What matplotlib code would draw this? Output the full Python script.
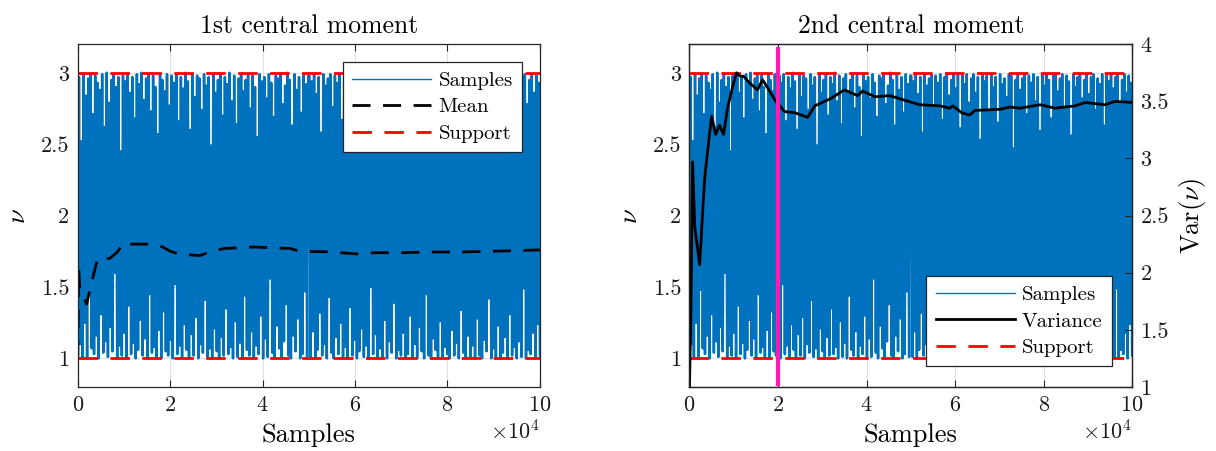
import numpy as np
import matplotlib
matplotlib.use("Agg")
import matplotlib.pyplot as plt
from matplotlib.ticker import ScalarFormatter, FormatStrFormatter

plt.rcParams['font.family'] = 'serif'
plt.rcParams['font.serif'] = ['cmr10']
plt.rcParams['mathtext.fontset'] = 'cm'
plt.rcParams['axes.formatter.use_mathtext'] = True

# ---------------- data ----------------
samples = [
    1.02, 2.97, 1.10, 2.52, 1.01, 2.99, 1.25, 2.84, 1.00, 2.96, 1.48, 2.99, 1.07, 2.71, 1.03, 2.98, 1.16, 2.93, 1.00, 2.88,
    1.31, 2.99, 1.04, 2.62, 1.12, 3.00, 1.01, 2.79, 1.22, 2.95, 1.05, 2.99, 1.60, 2.90, 1.00, 2.97, 1.09, 2.45, 1.02, 2.98,
    1.18, 2.94, 1.00, 2.99, 1.37, 2.86, 1.03, 2.97, 1.11, 2.68, 1.00, 2.99, 1.06, 2.92, 1.27, 3.00, 1.02, 2.81, 1.14, 2.96,
    1.00, 2.99, 1.45, 2.73, 1.04, 2.98, 1.08, 2.90, 1.01, 2.57, 1.20, 2.99, 1.00, 2.95, 1.33, 2.87, 1.05, 2.99, 1.02, 2.77,
    1.13, 2.98, 1.00, 2.93, 1.52, 2.99, 1.03, 2.66, 1.09, 2.97, 1.01, 2.89, 1.24, 3.00, 1.06, 2.94, 1.00, 2.60, 1.17, 2.99,
    1.02, 2.83, 1.29, 2.98, 1.00, 2.96, 1.10, 2.74, 1.04, 2.99, 1.41, 2.91, 1.01, 2.97, 1.07, 2.49, 1.00, 2.99, 1.21, 2.86,
    1.05, 2.95, 1.00, 2.99, 1.15, 2.70, 1.02, 2.97, 1.35, 2.92, 1.03, 3.00, 1.08, 2.80, 1.00, 2.98, 1.26, 2.64, 1.01, 2.96,
    1.11, 2.99, 1.00, 2.87, 1.44, 2.95, 1.06, 2.99, 1.02, 2.75, 1.19, 2.98, 1.00, 2.90, 1.09, 2.55, 1.03, 2.99, 1.30, 2.94,
    1.00, 2.97, 1.14, 2.82, 1.01, 2.99, 1.56, 2.93, 1.04, 2.69, 1.00, 2.98, 1.23, 2.96, 1.07, 2.99, 1.01, 2.78, 1.12, 2.91,
    1.38, 3.00, 1.02, 2.95, 1.00, 2.63, 1.16, 2.99, 1.05, 2.88, 1.28, 2.97, 1.00, 2.72, 1.03, 2.99, 1.47, 2.92, 1.01, 2.98,
    2.98, 1.01, 2.94, 1.19, 2.99, 1.00, 2.85, 1.06, 2.97, 1.32, 2.58, 1.02, 2.99, 1.10, 2.91, 1.00, 2.96, 1.43, 2.99, 1.04,
    2.76, 1.00, 2.98, 1.15, 2.93, 1.03, 2.99, 1.25, 2.67, 1.01, 2.97, 1.08, 2.99, 1.00, 2.84, 1.36, 2.95, 1.02, 2.99, 1.13,
    2.89, 1.00, 2.99, 1.05, 2.61, 1.21, 2.98, 1.01, 2.92, 1.09, 2.99, 1.00, 2.79, 1.50, 2.96, 1.03, 2.99, 1.17, 2.86, 1.00,
    2.97, 1.07, 2.53, 1.01, 2.99, 1.27, 2.94, 1.00, 2.98, 1.12, 2.73, 1.04, 2.99, 1.39, 2.90, 1.00, 2.97, 1.06, 2.65, 1.02,
    2.99, 1.18, 2.92, 1.00, 2.96, 1.03, 2.83, 1.30, 2.99, 1.01, 2.98, 1.10, 2.47, 1.00, 2.95, 1.22, 2.99, 1.05, 2.88, 1.00,
    2.96, 1.45, 2.99, 1.02, 2.71, 1.00, 2.98, 1.14, 2.93, 1.06, 2.99, 1.00, 2.80, 1.26, 2.97, 1.01, 2.59, 1.08, 2.99, 1.03,
    2.91, 1.00, 2.99, 1.20, 2.95, 1.02, 2.68, 1.11, 2.98, 1.00, 2.99, 1.34, 2.87, 1.04, 2.96, 1.00, 2.99, 1.16, 2.76, 1.01,
    2.98, 1.09, 2.94, 1.00, 2.56, 1.28, 2.99, 1.02, 2.90, 1.00, 2.97, 1.13, 2.99, 1.05, 2.82, 1.42, 2.95, 1.00, 2.99, 1.07,
    2.85, 1.01, 2.97, 1.23, 2.99, 1.00, 2.74, 1.04, 2.96, 1.15, 2.92, 1.00, 2.99, 1.31, 2.63, 1.02, 2.98, 1.08, 2.94, 1.00,
    2.99, 1.12, 2.89, 1.01, 2.97, 1.49, 2.99, 1.00, 2.78, 1.06, 2.95, 1.03, 2.99, 1.18, 2.86, 1.00, 2.98, 1.24, 2.93, 1.02,
]
n_samples = 100000

mean_x = [0, 200, 400, 1900, 3200, 4300, 6900, 8400, 10000, 11300, 13400, 16700, 18400, 20000,
          22000, 24200, 26400, 29000, 31800, 35000, 38300, 41600, 45900, 48000, 54500, 61000,
          64300, 69700, 76200, 82700, 89200, 95700, 100000]
mean_y = [1.00, 1.63, 1.49, 1.38, 1.56, 1.70, 1.70, 1.74, 1.81, 1.80, 1.80, 1.80, 1.78, 1.75,
          1.73, 1.725, 1.72, 1.75, 1.77, 1.775, 1.78, 1.775, 1.77, 1.75, 1.746, 1.73,
          1.74, 1.74, 1.745, 1.745, 1.75, 1.755, 1.76]

var_x = [0, 300, 700, 1200, 2300, 3400, 4200, 5000, 5900, 6800, 7700, 8600, 9700, 10600, 11500,
         12200, 13600, 15400, 16500, 18100, 19500, 21500, 23800, 26700, 28300, 31700, 35000,
         38000, 39100, 41900, 45200, 48600, 52000, 56600, 58800, 59500, 61500, 63300, 64500,
         70100, 72400, 74700, 79200, 82600, 87100, 89400, 93900, 96200, 100000]
var_y = [1.00, 1.60, 2.97, 2.40, 2.07, 2.81, 3.10, 3.37, 3.21, 3.29, 3.21, 3.44, 3.62, 3.75, 3.72,
         3.72, 3.66, 3.60, 3.69, 3.59, 3.50, 3.41, 3.40, 3.36, 3.46, 3.52, 3.60,
         3.55, 3.59, 3.54, 3.55, 3.51, 3.47, 3.46, 3.44, 3.46, 3.40, 3.38, 3.42,
         3.43, 3.45, 3.44, 3.47, 3.44, 3.46, 3.49, 3.47, 3.50, 3.49]

support = [1, 3]
burn_in = 20000

titles = ["1st central moment", "2nd central moment"]
xticks = [0, 20000, 40000, 60000, 80000, 100000]
yticks = [1, 1.5, 2, 2.5, 3]
var_ticks = [1, 1.5, 2, 2.5, 3, 3.5, 4]

# ---------------- style ----------------
blue = '#0072BD'
red = '#FF0000'
magenta = '#FF1AB3'
axc = '#262626'
fs = 16
lab_fs = 19
title_fs = 18.5
leg_fs = 15
samp_lw = 1.8

fig = plt.figure(figsize=(12.16, 4.51), dpi=100)
ax1 = fig.add_axes([0.064, 0.142, 0.38, 0.760])
ax2 = fig.add_axes([0.567, 0.142, 0.364, 0.760])

sx = np.linspace(0, n_samples, len(samples))

def style(ax):
    ax.set_xlim(0, n_samples)
    ax.set_ylim(0.8, 3.2)
    ax.set_xticks(xticks)
    ax.set_yticks(yticks)
    ax.grid(True, color='#e0e0e0', linewidth=0.8)
    ax.set_axisbelow(True)
    fmt = ScalarFormatter(useMathText=True)
    fmt.set_powerlimits((4, 4))
    ax.xaxis.set_major_formatter(fmt)
    ax.yaxis.set_major_formatter(FormatStrFormatter('%g'))
    ax.tick_params(direction='in', labelsize=fs, colors=axc, length=5, top=True, right=True,
                   labelcolor='#1a1a1a', pad=6)
    ax.xaxis.get_offset_text().set_fontsize(fs)
    for s in ax.spines.values():
        s.set_color(axc)
        s.set_linewidth(0.9)
    ax.set_xlabel('Samples', fontsize=lab_fs, labelpad=6)
    ax.set_ylabel(r'$\nu$', fontsize=lab_fs, labelpad=8)

def make_legend(ax, handles, loc, anchor):
    leg = ax.legend(handles=handles, loc=loc, fontsize=leg_fs, fancybox=False,
                    edgecolor=axc, framealpha=1, handlelength=3.8, borderpad=0.45,
                    labelspacing=0.38, handletextpad=0.35, borderaxespad=0,
                    bbox_to_anchor=anchor)
    leg.get_frame().set_linewidth(0.9)
    leg.get_lines()[0].set_linewidth(1.0)
    return leg

# ---- left ----
style(ax1)
h1, = ax1.plot(sx, samples, color=blue, lw=samp_lw, label='Samples')
h2, = ax1.plot(mean_x, mean_y, color='k', lw=2, dashes=(6.5, 4.5), label='Mean')
h3 = ax1.axhline(support[0], color=red, lw=2, dashes=(7, 4.5), label='Support')
ax1.axhline(support[1], color=red, lw=2, dashes=(7, 4.5))
ax1.set_title(titles[0], fontsize=title_fs, pad=8)
make_legend(ax1, [h1, h2, h3], 'upper right', (0.962, 0.948))

# ---- right ----
style(ax2)
ax2.tick_params(right=False)
g1, = ax2.plot(sx, samples, color=blue, lw=samp_lw, label='Samples')
g3 = ax2.axhline(support[0], color=red, lw=2, dashes=(7, 4.5), label='Support')
ax2.axhline(support[1], color=red, lw=2, dashes=(7, 4.5))
ax2.set_title(titles[1], fontsize=title_fs, pad=8)

ax2b = ax2.twinx()
ax2b.set_ylim(1, 4)
ax2b.set_yticks(var_ticks)
ax2b.yaxis.set_major_formatter(FormatStrFormatter('%g'))
ax2b.tick_params(direction='in', labelsize=fs, colors=axc, length=5, labelcolor='#1a1a1a', pad=6)
for s in ax2b.spines.values():
    s.set_color(axc)
    s.set_linewidth(0.9)
g2, = ax2b.plot(var_x, var_y, color='k', lw=2, label='Variance')
ax2b.axvline(burn_in, ymin=0.01, ymax=0.985, color=magenta, lw=3)
ax2b.set_ylabel(r'Var$(\nu)$', fontsize=lab_fs, labelpad=6)
make_legend(ax2b, [g1, g2, g3], 'lower right', (0.955, 0.06))

fig.savefig('out.png', dpi=100)
